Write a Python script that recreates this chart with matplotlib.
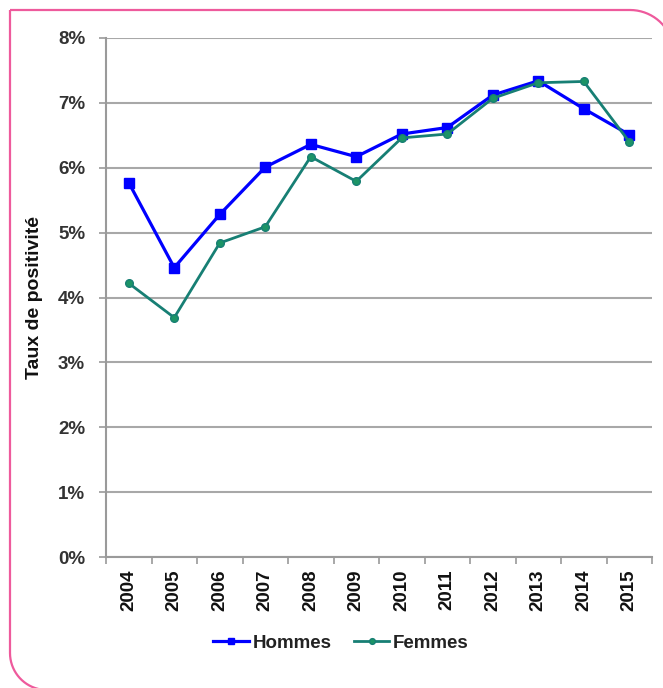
import matplotlib.pyplot as plt
import numpy as np
from matplotlib.path import Path
from matplotlib.patches import PathPatch

# data (percent)
years = ['2004', '2005', '2006', '2007', '2008', '2009',
         '2010', '2011', '2012', '2013', '2014', '2015']
hommes = [5.77, 4.46, 5.28, 6.01, 6.36, 6.17, 6.52, 6.62, 7.12, 7.34, 6.91, 6.51]
femmes = [4.22, 3.69, 4.84, 5.09, 6.17, 5.79, 6.46, 6.52, 7.07, 7.31, 7.33, 6.40]
y_ticks = [0, 1, 2, 3, 4, 5, 6, 7, 8]
y_labels = ['{}%'.format(v) for v in y_ticks]

plt.rcParams['font.family'] = ['Liberation Sans', 'DejaVu Sans']
plt.rcParams['font.weight'] = 'bold'
plt.rcParams['axes.labelweight'] = 'bold'

W, H = 663, 688
fig = plt.figure(figsize=(W / 100, H / 100), dpi=100)


def fx(px):
    return px / W


def fy(py):
    return 1 - py / H


# pink frame: square top-left corner, rounded top-right and bottom-left
verts = [(10, 10), (630, 10)]
for a in np.linspace(90, 0, 20):
    verts.append((630 + 44 * np.cos(np.radians(a)), 54 - 44 * np.sin(np.radians(a))))
verts.append((674, 700))
verts.append((47, 700))
for a in np.linspace(270, 180, 20):
    verts.append((47 + 37 * np.cos(np.radians(a)), 653 - 37 * np.sin(np.radians(a))))
verts.append((10, 10))
frame = Path([(fx(x), fy(y)) for x, y in verts])
fig.patches.append(PathPatch(frame, transform=fig.transFigure, fill=False,
                             edgecolor='#ee5a9c', linewidth=1.6))

ax = fig.add_axes([fx(106), fy(557), fx(652) - fx(106), fy(38) - fy(557)])
x = np.arange(len(years))

ax.plot(x, hommes, color='#0000ff', linewidth=2.3, marker='s', markersize=6.5,
        label='Hommes', zorder=3)
ax.plot(x, femmes, color='#177f74', linewidth=2.0, marker='o', markersize=5.5,
        markerfacecolor='#1c9466', markeredgecolor='#177f74', label='Femmes', zorder=4)

ax.set_xlim(-0.5, len(years) - 0.5)
ax.set_ylim(0, 8)
ax.set_yticks(y_ticks)
ax.set_yticklabels(y_labels, fontsize=13.5, color='#333333')
ax.set_xticks(x)
ax.set_xticklabels(years, rotation=90, fontsize=13.5, color='#111111')
ax.set_xticks(np.arange(-0.5, len(years)), minor=True)
ax.tick_params(axis='x', which='major', length=0, pad=9)
ax.tick_params(axis='x', which='minor', length=5, color='#9a9a9a', width=1.2)
ax.tick_params(axis='y', length=5, color='#9a9a9a', width=1.2, pad=10)

ax.grid(axis='y', color='#a8a8a8', linewidth=1.5)
ax.set_axisbelow(True)
for side in ['top', 'right']:
    ax.spines[side].set_visible(False)
for side in ['left', 'bottom']:
    ax.spines[side].set_color('#9a9a9a')
    ax.spines[side].set_linewidth(1.5)

ax.set_ylabel('Taux de positivité', fontsize=14, fontweight='bold', color='#111111')
ax.yaxis.set_label_coords(-0.115, 0.5)

fig.legend(loc='center', bbox_to_anchor=(fx(341), fy(643)), ncol=2, frameon=False,
           fontsize=13.5, handlelength=1.9, handletextpad=0.2, columnspacing=1.2,
           markerscale=0.75, labelcolor='#222222')

fig.savefig('out.png', dpi=100)
